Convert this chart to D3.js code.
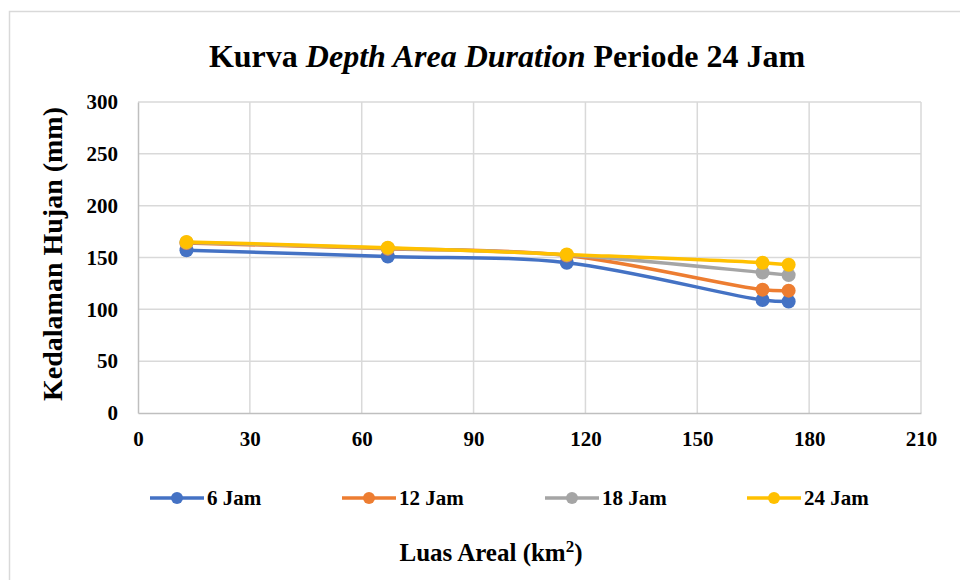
<!DOCTYPE html>
<html>
<head>
<meta charset="utf-8">
<script src="https://cdn.jsdelivr.net/npm/d3@7"></script>
<style>
  body { margin: 0; background: #fff; }
  svg text, svg tspan { font-family: "Liberation Serif", "DejaVu Serif", serif; font-weight: bold; fill: #000; }
</style>
</head>
<body>
<script>
// data
var areas = [13, 67, 115, 167.5, 174.5];
var seriesNames = ["6 Jam", "12 Jam", "18 Jam", "24 Jam"];
var jam6 = [157, 151, 145, 109, 107.5];
var jam12 = [164, 158.5, 152, 119, 118];
var jam18 = [164.5, 159, 152.5, 135.5, 133];
var jam24 = [165, 159.5, 153, 145, 143];
var colors = ["#4472C4", "#ED7D31", "#A5A5A5", "#FFC000"];
var xTicks = [0, 30, 60, 90, 120, 150, 180, 210];
var yTicks = [0, 50, 100, 150, 200, 250, 300];

var width = 960, height = 580;
var margin = {top: 102, right: 39, bottom: 167, left: 138};
var w = width - margin.left - margin.right,
    h = height - margin.top - margin.bottom;

var svg = d3.select("body").append("svg")
    .attr("width", width)
    .attr("height", height);

// chart border
svg.append("rect")
    .attr("x", 9.5).attr("y", 11.5)
    .attr("width", 960).attr("height", 580)
    .attr("fill", "none")
    .attr("stroke", "#d9d9d9")
    .attr("stroke-width", 1.5);

var title = svg.append("text")
    .attr("x", 507).attr("y", 67)
    .attr("text-anchor", "middle")
    .style("font-size", "32px");
title.append("tspan").text("Kurva ");
title.append("tspan").style("font-style", "italic").text("Depth Area Duration");
title.append("tspan").text(" Periode 24 Jam");

var g = svg.append("g")
    .attr("transform", "translate(" + margin.left + "," + margin.top + ")");

var x = d3.scaleLinear().domain([0, 210]).range([0, w]);
var y = d3.scaleLinear().domain([0, 300]).range([h, 0]);

// gridlines
g.append("g").selectAll("line").data(yTicks.slice(1)).enter().append("line")
    .attr("x1", 0).attr("x2", w)
    .attr("y1", function(d) { return y(d); })
    .attr("y2", function(d) { return y(d); })
    .attr("stroke", "#d9d9d9").attr("stroke-width", 1.5);
g.append("g").selectAll("line").data(xTicks.slice(1)).enter().append("line")
    .attr("x1", function(d) { return x(d); })
    .attr("x2", function(d) { return x(d); })
    .attr("y1", 0).attr("y2", h)
    .attr("stroke", "#d9d9d9").attr("stroke-width", 1.5);

// axes
var xAxis = g.append("g")
    .attr("transform", "translate(0," + h + ")")
    .call(d3.axisBottom(x).tickValues(xTicks).tickSize(0).tickPadding(18));
var yAxis = g.append("g")
    .call(d3.axisLeft(y).tickValues(yTicks).tickSize(0).tickPadding(20));
[xAxis, yAxis].forEach(function(a) {
  a.attr("font-family", null).attr("font-size", null);
  a.select(".domain").attr("stroke", "#bfbfbf").attr("stroke-width", 1.5);
  a.selectAll("text").style("font-size", "21px");
});

// axis titles
svg.append("text")
    .attr("transform", "translate(62,254) rotate(-90)")
    .attr("text-anchor", "middle")
    .style("font-size", "28px")
    .text("Kedalaman Hujan (mm)");

var xt = svg.append("text")
    .attr("x", 491).attr("y", 561)
    .attr("text-anchor", "middle")
    .style("font-size", "25px");
xt.append("tspan").text("Luas Areal (km");
xt.append("tspan").attr("dy", -9).style("font-size", "17px").text("2");
xt.append("tspan").attr("dy", 9).text(")");

// series
var allSeries = [jam6, jam12, jam18, jam24];
var line = d3.line()
    .x(function(d, i) { return x(areas[i]); })
    .y(function(d) { return y(d); })
    .curve(d3.curveCatmullRom.alpha(0.5));

allSeries.forEach(function(vals, k) {
  var s = g.append("g");
  s.append("path")
      .datum(vals)
      .attr("d", line)
      .attr("fill", "none")
      .attr("stroke", colors[k])
      .attr("stroke-width", 3.5)
      .attr("stroke-linecap", "round");
  s.selectAll("circle").data(vals).enter().append("circle")
      .attr("cx", function(d, i) { return x(areas[i]); })
      .attr("cy", function(d) { return y(d); })
      .attr("r", 7)
      .attr("fill", colors[k]);
});

// legend
var legendX = [150, 342, 545, 747];
var legend = svg.append("g").selectAll("g").data(seriesNames).enter().append("g")
    .attr("transform", function(d, i) { return "translate(" + legendX[i] + ",498)"; });
legend.append("line")
    .attr("x1", 0).attr("x2", 54)
    .attr("stroke", function(d, i) { return colors[i]; })
    .attr("stroke-width", 3.5);
legend.append("circle")
    .attr("cx", 27).attr("r", 6)
    .attr("fill", function(d, i) { return colors[i]; });
legend.append("text")
    .attr("x", 57).attr("y", 7)
    .style("font-size", "21px")
    .text(function(d) { return d; });
</script>
</body>
</html>
